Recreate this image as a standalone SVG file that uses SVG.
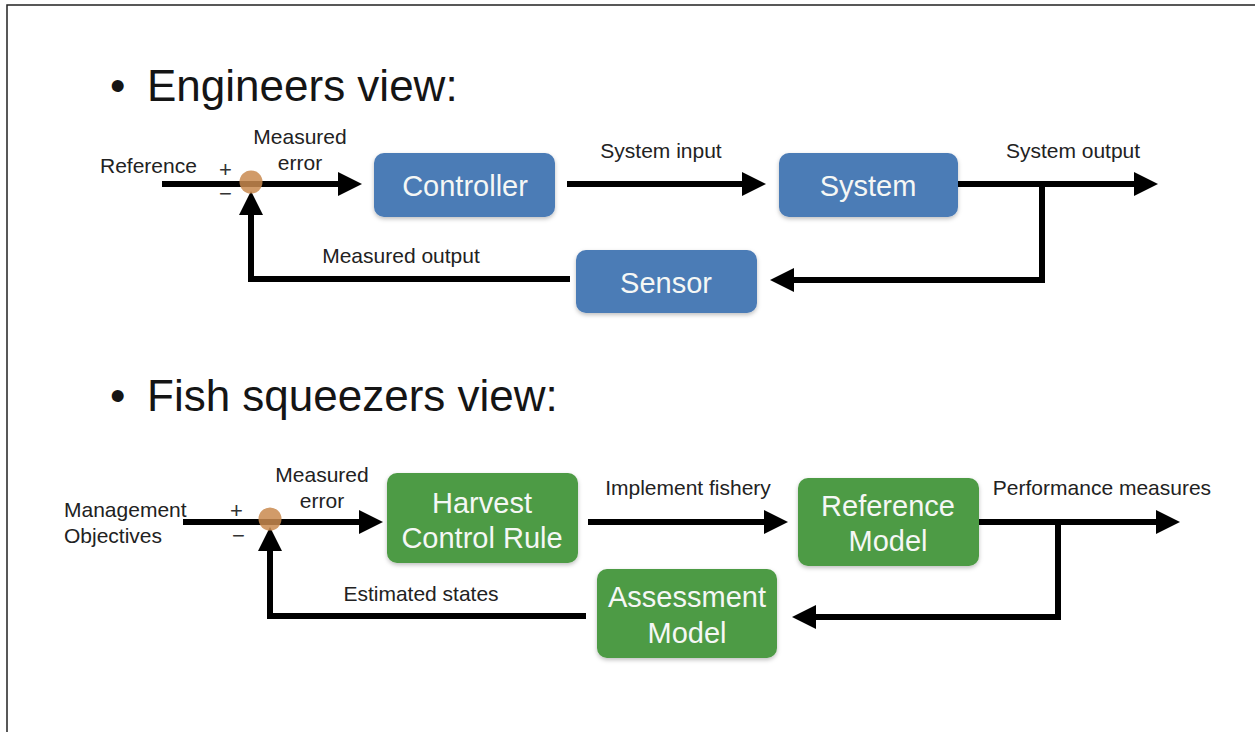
<svg xmlns="http://www.w3.org/2000/svg" width="1255" height="732" viewBox="0 0 1255 732">
<style>
  text { font-family: "Liberation Sans", Arial, sans-serif; }
  .title { font-size: 44px; fill: #151515; }
  .lbl { font-size: 21px; fill: #222; }
  .sign { font-size: 22px; fill: #333; }
  .box-b { fill: #4b7bb6; }
  .box-g { fill: #4e9b45; }
  .btxt { font-size: 29px; fill: #f5f7f5; text-anchor: middle; }
  .wire { fill: none; stroke: #000; stroke-width: 6; marker-end: url(#ah); }
  .junction { fill: #c98a4f; fill-opacity: 0.85; }
</style>
<defs>
  <marker id="ah" markerUnits="userSpaceOnUse" markerWidth="24" markerHeight="24" refX="2" refY="12" orient="auto">
    <path d="M0,0 L24,12 L0,24 z" fill="#000"/>
  </marker>
  <filter id="sh" x="-10%" y="-10%" width="120%" height="130%">
    <feDropShadow dx="0" dy="2" stdDeviation="2" flood-color="#000" flood-opacity="0.25"/>
  </filter>
</defs>
<rect width="1255" height="732" fill="#fff"/>
<path d="M7,732 V5 H1255" fill="none" stroke="#222" stroke-width="1.5"/>

<g id="title-engineers">
  <text class="title" x="110" y="101">•</text>
  <text class="title" x="147" y="101">Engineers view:</text>
</g>
<g id="title-fish">
  <text class="title" x="110" y="411">•</text>
  <text class="title" x="147" y="411">Fish squeezers view:</text>
</g>

<g id="connectors">
  <path class="wire" d="M162,184 H340"/>
  <path class="wire" d="M567,184 H744"/>
  <path class="wire" d="M958,184 H1136"/>
  <path class="wire" d="M1042,184 V280 H792"/>
  <path class="wire" d="M570,279 H251 V213"/>

  <path class="wire" d="M183,522 H361"/>
  <path class="wire" d="M588,522 H766"/>
  <path class="wire" d="M979,522 H1158"/>
  <path class="wire" d="M1058,522 V617 H814"/>
  <path class="wire" d="M586,616 H270 V549"/>
</g>

<g id="junction-1"><circle class="junction" cx="251" cy="182" r="11.5"/></g>
<g id="junction-2"><circle class="junction" cx="270" cy="519" r="11.5"/></g>

<g id="labels-engineers">
  <text class="lbl" x="100" y="173">Reference</text>
  <text class="sign" x="219" y="177">+</text>
  <text class="sign" x="219" y="201">−</text>
  <text class="lbl" x="300" y="144" text-anchor="middle">Measured</text>
  <text class="lbl" x="300" y="170" text-anchor="middle">error</text>
  <text class="lbl" x="661" y="158" text-anchor="middle">System input</text>
  <text class="lbl" x="1073" y="158" text-anchor="middle">System output</text>
  <text class="lbl" x="401" y="263" text-anchor="middle">Measured output</text>
</g>

<g id="controller">
  <rect class="box-b" x="374" y="153" width="181" height="64" rx="10" filter="url(#sh)"/>
  <text class="btxt" x="465" y="196">Controller</text>
</g>
<g id="system">
  <rect class="box-b" x="779" y="153" width="179" height="64" rx="10" filter="url(#sh)"/>
  <text class="btxt" x="868" y="196">System</text>
</g>
<g id="sensor">
  <rect class="box-b" x="576" y="250" width="181" height="63" rx="10" filter="url(#sh)"/>
  <text class="btxt" x="666" y="293">Sensor</text>
</g>

<g id="labels-fish">
  <text class="lbl" x="64" y="517">Management</text>
  <text class="lbl" x="64" y="543">Objectives</text>
  <text class="sign" x="230" y="518">+</text>
  <text class="sign" x="232" y="543">−</text>
  <text class="lbl" x="322" y="482" text-anchor="middle">Measured</text>
  <text class="lbl" x="322" y="508" text-anchor="middle">error</text>
  <text class="lbl" x="688" y="495" text-anchor="middle">Implement fishery</text>
  <text class="lbl" x="1102" y="495" text-anchor="middle">Performance measures</text>
  <text class="lbl" x="421" y="601" text-anchor="middle">Estimated states</text>
</g>

<g id="harvest-control-rule">
  <rect class="box-g" x="387" y="473" width="191" height="90" rx="10" filter="url(#sh)"/>
  <text class="btxt" x="482" y="513">Harvest</text>
  <text class="btxt" x="482" y="548">Control Rule</text>
</g>
<g id="reference-model">
  <rect class="box-g" x="798" y="478" width="181" height="88" rx="10" filter="url(#sh)"/>
  <text class="btxt" x="888" y="516">Reference</text>
  <text class="btxt" x="888" y="551">Model</text>
</g>
<g id="assessment-model">
  <rect class="box-g" x="597" y="569" width="180" height="89" rx="10" filter="url(#sh)"/>
  <text class="btxt" x="687" y="607">Assessment</text>
  <text class="btxt" x="687" y="643">Model</text>
</g>
</svg>
